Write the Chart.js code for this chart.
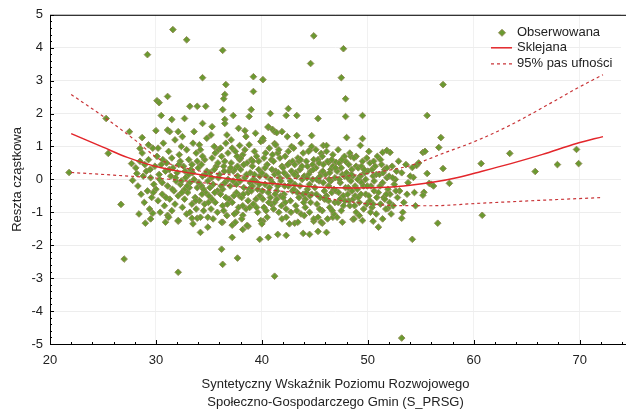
<!DOCTYPE html>
<html>
<head>
<meta charset="utf-8">
<script src="https://cdn.jsdelivr.net/npm/chart.js@4.4.0/dist/chart.umd.min.js"></script>
<style>
  body { margin: 0; background: #fff; }
  #wrap { width: 626px; height: 410px; }
</style>
</head>
<body>
<div id="wrap"><canvas id="myChart"></canvas></div>
<script>
// observed partial residuals [S_PRSG, residual]
var obsPoints = [
  // outliers / sparse points
  [21.8,0.21],[25.3,1.85],[25.5,0.79],[26.7,-0.76],[27,-2.42],[27.5,1.45],[28.7,1.27],[29,-1.33],
  [29.2,3.79],[30,1.48],[30.1,2.39],[30.3,2.33],[30.5,1.94],[31.1,2.52],[31.5,1.82],[31.6,4.55],
  [32.1,-2.82],[32.7,1.85],[32.9,4.24],[33.2,2.22],[33.9,2.22],[34.7,2.22],[34.4,3.09],[34.4,1.7],
  [35.3,1.6],[36.3,3.92],[36.6,2.88],[36.5,2.58],[36.4,2.45],[36.3,2.12],[36.5,1.82],[36.5,1.7],
  [37.3,1.94],[31.3,1.45],[32.1,1.45],[27.7,0.48],[28.2,0.18],[27.8,-0.03],[28.5,0.94],
  [34.2,-1.61],[37.2,-1.76],[36.2,-2.12],[36.3,-2.58],[37.7,-2.39],[37.2,-1.39],[32.1,-1.27],
  [29.7,-1.03],[31.1,-1.09],[33.4,-1.18],[33.9,-1.18],[34.9,-1.15],[36.3,-1.3],[41.2,-2.94],[53.2,-4.82],
  [44.9,4.36],[47.7,3.97],[44.6,3.52],[47.5,3.09],[39.2,3.12],[40.1,3.03],[39.2,2.67],[47.9,2.45],
  [39,2.12],[42.5,2.15],[38.8,1.91],[40.8,2.0],[42.3,1.94],[43.3,1.94],[45.3,1.85],[47.9,1.91],
  [49.5,1.94],[40.6,1.58],[41,1.52],[41.2,1.45],[41.4,1.42],[41.9,1.45],[38.4,1.48],[43.3,1.33],
  [44.7,1.33],[48,1.27],[49.5,1.24],[49.3,1.03],[45.8,1.03],[46.1,1.03],[51.4,0.82],[52.1,0.82],
  [51.8,0.88],[48.4,0.7],[48.9,0.7],[37.9,1.03],[40.1,1.18],[41.2,1.09],[44.5,0.88],[45.6,0.79],
  [46.3,0.52],[47,0.52],[54.2,0.36],
  [57.1,2.88],[55.6,1.94],[56.9,1.27],[56.7,0.97],[55.2,0.82],[55.4,0.85],[63.4,0.79],[54.6,0.42],
  [57.1,0.33],[60.7,0.48],[69.7,0.91],[69.9,0.48],[67.9,0.45],[65.8,0.24],[54.3,0.06],[55.6,0.18],
  [56,-0.15],[56.2,-0.2],[55.8,-0.12],[57.7,-0.12],[55.3,-0.39],[55.2,-0.48],[60.8,-1.09],[56.6,-1.33],
  [54.2,-1.82],[53.2,-1.18],[50.5,-1.27],[51,-1.45],[38.2,-1.52],[38.7,-1.42],[39.8,-1.82],[40.6,-1.76],
  [41.5,-1.67],[42.3,-1.7],[43.9,-1.64],[44.5,-1.67],[45.3,-1.58],[46.1,-1.61],[40.1,-1.27],[43.1,-1.33],
  [44.9,-1.27],[45.7,-1.33],[48.6,-1.21],[46.7,-1.15],[51.9,-0.88],[38.2,-1.09],[37.6,-1.0],
  // dense cloud
  [28.1,0.35],[28.3,-0.2],[28.5,0.55],[28.6,-0.45],[28.8,0.1],[28.9,-0.7],[28.4,-1.05],[28.7,0.8],
  [29.1,0.25],[29.2,-0.35],[29.3,0.6],[29.4,-0.9],[29.5,0.05],[29.6,-0.55],[29.7,0.95],[29.8,-0.15],[29.9,0.4],[29.5,-1.2],[29.3,1.05],
  [30.0,-0.3],[30.1,0.7],[30.2,-0.65],[30.3,0.15],[30.4,-1.0],[30.5,0.45],[30.6,-0.1],[30.7,1.1],[30.8,-0.8],[30.9,0.25],[30.2,0.95],[30.6,-0.45],[30.9,-1.3],
  [31.0,0.5],[31.1,-0.2],[31.2,0.85],[31.3,-0.6],[31.4,0.1],[31.5,-0.95],[31.6,0.35],[31.7,-0.35],[31.8,1.2],[31.9,-0.05],[31.2,-1.15],[31.5,0.65],[31.8,-0.75],[31.1,1.5],
  [32.0,0.2],[32.1,-0.5],[32.2,0.75],[32.3,-0.15],[32.4,1.0],[32.5,-0.85],[32.6,0.4],[32.7,-0.3],[32.8,0.05],[32.9,-1.05],[32.3,0.55],[32.5,1.3],[32.7,-0.6],[32.9,0.9],[32.1,-1.25],[32.4,-0.05],
  [33.0,-0.4],[33.1,0.6],[33.2,-0.1],[33.3,0.3],[33.4,-0.75],[33.5,1.1],[33.6,0.0],[33.7,-0.55],[33.8,0.8],[33.9,-0.25],[33.2,-1.0],[33.4,0.45],[33.6,1.45],[33.8,-0.9],[33.1,0.15],[33.9,0.55],[33.5,-1.35],
  [34.0,0.35],[34.1,-0.65],[34.2,0.9],[34.3,-0.2],[34.4,0.1],[34.5,-0.95],[34.6,0.6],[34.7,-0.4],[34.8,1.25],[34.9,-0.05],[34.2,-1.15],[34.4,0.7],[34.6,-0.75],[34.8,0.25],[34.1,1.05],[34.5,-0.3],[34.9,-1.45],[34.3,0.45],
  [35.0,-0.5],[35.1,0.2],[35.2,-0.9],[35.3,0.65],[35.4,-0.15],[35.5,1.0],[35.6,-0.7],[35.7,0.4],[35.8,-0.35],[35.9,0.05],[35.2,1.35],[35.4,-1.2],[35.6,0.8],[35.8,-1.0],[35.1,-0.25],[35.5,0.3],[35.9,0.9],[35.3,-0.6],
  [36.0,0.15],[36.1,-0.45],[36.2,0.7],[36.3,-0.8],[36.4,0.4],[36.5,-0.1],[36.6,1.1],[36.7,-1.1],[36.8,0.0],[36.9,-0.6],[36.1,0.95],[36.3,-0.3],[36.5,0.55],[36.7,1.35],[36.9,0.25],[36.2,-1.3],[36.6,-0.55],[36.8,0.8],[36.4,-0.95],
  [37.0,-0.2],[37.1,0.5],[37.2,-0.7],[37.3,0.25],[37.4,-1.05],[37.5,0.85],[37.6,-0.4],[37.7,0.1],[37.8,-0.85],[37.9,0.6],[37.1,1.2],[37.3,-0.05],[37.5,-1.3],[37.7,0.4],[37.9,-0.5],[37.2,0.95],[37.6,-0.15],[37.8,1.55],[37.4,0.3],
  [38.0,0.3],[38.1,-0.55],[38.2,0.75],[38.3,-0.25],[38.4,0.05],[38.5,-0.9],[38.6,0.5],[38.7,-0.65],[38.8,1.05],[38.9,-0.1],[38.1,-1.2],[38.3,0.45],[38.5,1.3],[38.7,-0.4],[38.9,0.2],[38.2,-0.8],[38.4,0.9],[38.6,-1.4],[38.8,-0.3],[38.0,0.65],
  [39.0,-0.35],[39.1,0.4],[39.2,-0.75],[39.3,0.15],[39.4,-0.05],[39.5,0.7],[39.6,-1.0],[39.7,0.3],[39.8,-0.5],[39.9,1.15],[39.1,-0.2],[39.3,0.85],[39.5,-0.85],[39.7,0.55],[39.9,-1.25],[39.2,0.0],[39.4,1.4],[39.6,-0.3],[39.8,0.1],[39.0,0.6],
  [40.0,0.2],[40.1,-0.6],[40.2,0.65],[40.3,-0.15],[40.4,-0.95],[40.5,0.45],[40.6,-0.4],[40.7,0.95],[40.8,0.0],[40.9,-0.75],[40.1,1.25],[40.3,0.35],[40.5,-1.15],[40.7,-0.25],[40.9,0.6],[40.2,-0.85],[40.4,0.1],[40.6,1.6],[40.8,-0.55],[40.0,-1.35],
  [41.0,-0.1],[41.1,0.55],[41.2,-0.7],[41.3,0.25],[41.4,-0.35],[41.5,0.8],[41.6,-1.0],[41.7,0.05],[41.8,-0.5],[41.9,0.4],[41.1,-0.9],[41.3,1.05],[41.5,-0.2],[41.7,0.65],[41.9,-1.2],[41.2,0.15],[41.4,-0.6],[41.6,0.9],[41.8,-0.05],[41.0,0.75],
  [42.0,0.35],[42.1,-0.45],[42.2,0.7],[42.3,-0.9],[42.4,0.1],[42.5,-0.2],[42.6,0.5],[42.7,-0.65],[42.8,1.0],[42.9,-0.35],[42.1,0.2],[42.3,-1.15],[42.5,0.85],[42.7,-0.05],[42.9,0.55],[42.2,-0.7],[42.4,1.3],[42.6,-1.35],[42.8,0.25],[42.0,-0.55],
  [43.0,-0.3],[43.1,0.45],[43.2,-0.8],[43.3,0.1],[43.4,0.65],[43.5,-0.55],[43.6,0.3],[43.7,-1.05],[43.8,0.0],[43.9,0.8],[43.1,-0.15],[43.3,-0.95],[43.5,0.55],[43.7,1.1],[43.9,-0.45],[43.2,0.2],[43.4,-1.3],[43.6,-0.2],[43.8,0.4],[43.0,0.95],
  [44.0,0.1],[44.1,-0.6],[44.2,0.55],[44.3,-0.3],[44.4,0.85],[44.5,-1.0],[44.6,0.25],[44.7,-0.45],[44.8,0.0],[44.9,0.6],[44.1,-0.85],[44.3,0.4],[44.5,-0.15],[44.7,1.0],[44.9,-1.2],[44.2,-0.4],[44.4,0.15],[44.6,-0.7],[44.8,0.45],[44.0,-1.1],
  [45.0,-0.25],[45.1,0.35],[45.2,-0.75],[45.3,0.6],[45.4,-0.05],[45.5,-0.55],[45.6,0.2],[45.7,-0.95],[45.8,0.45],[45.9,-0.35],[45.1,0.9],[45.3,-1.15],[45.5,0.1],[45.7,0.7],[45.9,-0.6],[45.2,0.0],[45.4,0.5],[45.6,-1.3],[45.8,-0.1],
  [46.0,0.15],[46.1,-0.5],[46.2,0.55],[46.3,-0.2],[46.4,-0.85],[46.5,0.3],[46.6,-0.4],[46.7,0.75],[46.8,-1.05],[46.9,0.05],[46.1,0.85],[46.3,-0.65],[46.5,-0.05],[46.7,0.4],[46.9,-0.7],[46.2,-1.2],[46.4,0.2],[46.6,0.6],[46.8,-0.3],
  [47.0,-0.35],[47.1,0.25],[47.2,-0.7],[47.3,0.5],[47.4,-0.1],[47.5,-0.95],[47.6,0.15],[47.7,-0.5],[47.8,0.7],[47.9,-0.25],[47.1,-1.15],[47.3,0.0],[47.5,0.35],[47.7,-0.8],[47.9,0.55],[47.2,0.9],[47.4,-0.6],[47.6,-1.3],[47.8,0.1],
  [48.0,0.2],[48.1,-0.45],[48.2,0.45],[48.3,-0.8],[48.4,-0.05],[48.5,0.3],[48.6,-0.6],[48.7,0.65],[48.8,-0.2],[48.9,-1.0],[48.1,0.05],[48.3,0.8],[48.5,-0.35],[48.7,-1.2],[48.9,0.4],[48.2,-0.65],[48.6,0.1],[48.8,-0.5],
  [49.0,-0.3],[49.1,0.35],[49.2,-0.7],[49.3,0.1],[49.4,-0.1],[49.5,0.55],[49.6,-0.9],[49.7,0.2],[49.8,-0.45],[49.9,0.65],[49.2,-1.1],[49.4,0.4],[49.6,-0.2],[49.8,0.0],[49.1,-0.55],[49.5,-1.25],[49.9,-0.75],
  [50.0,0.25],[50.1,-0.5],[50.2,0.5],[50.3,-0.2],[50.4,-0.85],[50.5,0.1],[50.6,-0.35],[50.7,0.4],[50.8,-1.05],[50.9,0.7],[50.2,-0.65],[50.4,0.3],[50.6,-0.05],[50.8,0.15],[50.1,0.85],[50.5,-0.75],
  [51.0,-0.4],[51.1,0.15],[51.2,-0.75],[51.3,0.45],[51.4,-0.1],[51.5,-0.55],[51.6,0.3],[51.7,-0.9],[51.8,0.05],[51.9,-0.3],[51.2,0.6],[51.4,-1.2],[51.6,-0.6],[51.8,0.35],
  [52.0,0.1],[52.1,-0.45],[52.3,0.4],[52.4,-0.8],[52.5,-0.15],[52.7,0.25],[52.8,-0.55],[52.9,0.55],[52.2,-1.05],[52.6,0.0],
  [53.0,-0.35],[53.2,0.2],[53.4,-0.7],[53.6,0.45],[53.8,-0.1],[53.3,-1.0],[53.7,-0.45],
  [54.0,0.1],[54.4,-0.4],[54.8,0.5],[54.5,-0.8],
  // core of the cloud, second pass
  [33.15,-0.25],[33.45,0.2],[33.75,-0.65],[34.05,-0.1],[34.35,-0.45],[34.65,0.15],[34.95,-0.7],[35.25,0.05],
  [35.55,-0.4],[35.85,0.5],[36.15,-0.2],[36.45,0.25],[36.75,-0.75],[37.05,0.35],[37.35,-0.5],[37.65,0.7],
  [37.95,-0.05],[38.25,-0.45],[38.55,0.15],[38.85,-0.85],[39.15,0.55],[39.45,-0.6],[39.75,-0.15],[40.05,-0.35],
  [40.35,0.8],[40.65,-0.7],[40.95,0.3],[41.25,-0.45],[41.55,0.2],[41.85,-0.8],[42.15,-0.2],[42.45,0.45],
  [42.75,-1.0],[43.05,0.15],[43.35,-0.4],[43.65,0.6],[43.95,-0.7],[44.25,0.05],[44.55,-0.5],[44.85,0.3],
  [45.15,-0.45],[45.45,-0.9],[45.75,0.25],[46.05,-0.6],[46.35,0.0],[46.65,-0.95],[46.95,0.35],[47.25,-0.4],
  [47.55,0.6],[47.85,-0.65],[48.15,-0.25],[48.45,0.15],[48.75,-0.8],[49.05,0.0],[49.35,-0.45],[49.65,0.3],
  [49.95,-0.2],[50.25,-1.0],[50.55,0.55],[50.85,-0.55],[51.15,-0.2],[51.45,0.2],[51.75,-0.45],[52.05,-0.7],
  [52.35,0.05],[52.65,-0.35],[30.35,0.0],[30.65,0.6],[30.95,-0.55],[31.25,0.3],[31.55,-0.3],[31.85,0.05],
  [32.15,0.45],[32.45,-0.4],[32.75,0.25],[32.95,-0.2],[29.45,0.3],[29.75,-0.4],[28.95,0.45]
];

// fitted spline and 95% band
var splineX = [22, 25, 27.3, 30.4, 33.5, 36.7, 39.8, 42.5, 45.5, 48.5, 51.8, 54, 56.1, 58.5, 60.7, 63.5, 66.5, 69.7, 72.2];
var splineY = [1.39, 0.98, 0.67, 0.36, 0.18, 0.03, -0.09, -0.17, -0.24, -0.26, -0.24, -0.18, -0.09, 0.06, 0.24, 0.48, 0.76, 1.09, 1.3];
var upperX = [22, 25.3, 28, 30.4, 33, 36, 40, 43.6, 46, 48.5, 51.8, 54, 57.1, 60.3, 63.4, 66.5, 69.7, 72.2];
var upperY = [2.58, 1.85, 1.2, 0.6, 0.33, 0.17, 0.07, 0.03, 0.04, 0.12, 0.27, 0.42, 0.79, 1.18, 1.64, 2.18, 2.76, 3.18];
var lowerX = [22, 26, 30.4, 33.5, 36.7, 40, 43.6, 47.4, 52.4, 56, 60.3, 66, 72.2];
var lowerY = [0.21, 0.13, 0.03, -0.07, -0.18, -0.3, -0.42, -0.64, -0.79, -0.8, -0.73, -0.64, -0.55];

var xTicks = [20, 30, 40, 50, 60, 70];
var xTitle = ['Syntetyczny Wskaźnik Poziomu Rozwojowego', 'Społeczno-Gospodarczego Gmin (S_PRSG)'];
var yTitle = 'Reszta cząstkowa';

function toXY(xs, ys) {
  return xs.map(function (x, i) { return { x: x, y: ys[i] }; });
}

var FONT = "'Liberation Sans', Arial, sans-serif";
var dotFill = '#6a9a30';
var dotEdge = '#8f8c55';
var red = '#e3262b';
var redDash = '#c93538';

// black frame round the plot, with inward tick marks
var framePlugin = {
  id: 'frame',
  afterDatasetsDraw: function (chart) {
    var a = chart.chartArea, c = chart.ctx;
    var xs = chart.scales.x, ys = chart.scales.y;
    c.save();
    c.strokeStyle = '#000';
    c.lineWidth = 1;
    c.strokeRect(a.left + 0.5, a.top + 0.5, chart.width - a.left + 2, a.bottom - a.top);
    c.beginPath();
    for (var v = -5; v <= 5.001; v += 0.2) {
      var py = Math.round(ys.getPixelForValue(v)) + 0.5;
      var major = Math.abs(v - Math.round(v)) < 0.01;
      c.moveTo(a.left, py);
      c.lineTo(a.left + (major ? 4 : 2), py);
    }
    for (var u = 20; u <= 74; u += 2) {
      var px = Math.round(xs.getPixelForValue(u)) + 0.5;
      var big = u % 10 === 0;
      c.moveTo(px, a.bottom);
      c.lineTo(px, a.bottom - (big ? 4 : 2));
    }
    c.stroke();
    c.restore();
  }
};

// legend in the top right corner of the plot
var legendPlugin = {
  id: 'cornerLegend',
  afterDraw: function (chart) {
    var a = chart.chartArea, c = chart.ctx;
    var mx = chart.width - 124;
    var tx = chart.width - 109;
    var rows = [a.top + 18, a.top + 33, a.top + 49];
    c.save();
    // marker
    c.fillStyle = dotFill;
    c.strokeStyle = dotEdge;
    c.lineWidth = 1;
    c.beginPath();
    c.moveTo(mx, rows[0] - 3.5); c.lineTo(mx + 3.5, rows[0]); c.lineTo(mx, rows[0] + 3.5); c.lineTo(mx - 3.5, rows[0]);
    c.closePath(); c.fill(); c.stroke();
    // solid line
    c.strokeStyle = red; c.lineWidth = 1.5;
    c.beginPath(); c.moveTo(mx - 11, rows[1]); c.lineTo(mx + 10, rows[1]); c.stroke();
    // dashed line
    c.strokeStyle = redDash; c.lineWidth = 1.2; c.setLineDash([3, 3]);
    c.beginPath(); c.moveTo(mx - 11, rows[2]); c.lineTo(mx + 10, rows[2]); c.stroke();
    c.setLineDash([]);
    c.fillStyle = '#222';
    c.font = '13px ' + FONT;
    c.textBaseline = 'middle';
    var labels = chart.data.datasets.slice(0, 3).map(function (d) { return d.label; });
    labels.forEach(function (t, i) { c.fillText(t, tx, rows[i]); });
    c.restore();
  }
};

var ctx = document.getElementById('myChart');

var myChart = new Chart(ctx, {
  type: 'scatter',
  data: {
    datasets: [{
      label: 'Obserwowana',
      data: obsPoints.map(function (p) { return { x: p[0], y: p[1] }; }),
      pointStyle: 'rectRot',
      pointRadius: 3.3,
      backgroundColor: dotFill,
      borderColor: dotEdge,
      borderWidth: 1,
      order: 3
    }, {
      type: 'line',
      label: 'Sklejana',
      data: toXY(splineX, splineY),
      borderColor: red,
      borderWidth: 1.5,
      pointRadius: 0,
      cubicInterpolationMode: 'monotone',
      fill: false,
      order: 1
    }, {
      type: 'line',
      label: '95% pas ufności',
      data: toXY(upperX, upperY),
      borderColor: redDash,
      borderWidth: 1.2,
      borderDash: [3, 3],
      pointRadius: 0,
      cubicInterpolationMode: 'monotone',
      fill: false,
      order: 2
    }, {
      type: 'line',
      label: '95% pas ufności (dolna)',
      data: toXY(lowerX, lowerY),
      borderColor: redDash,
      borderWidth: 1.2,
      borderDash: [3, 3],
      pointRadius: 0,
      cubicInterpolationMode: 'monotone',
      fill: false,
      order: 2
    }]
  },
  options: {
    responsive: true,
    maintainAspectRatio: false,
    animation: false,
    layout: { padding: { top: 14, right: 0, left: 0, bottom: 0 } },
    plugins: {
      legend: { display: false },
      tooltip: { enabled: false }
    },
    scales: {
      x: {
        type: 'linear',
        min: 20,
        max: 73.9,
        afterBuildTicks: function (scale) {
          scale.ticks = xTicks.map(function (v) { return { value: v }; });
        },
        afterFit: function (scale) { scale.height = 66; },
        ticks: { color: '#222', font: { family: FONT, size: 13 }, padding: 9, maxRotation: 0 },
        grid: { color: '#f1f1f1', drawTicks: false },
        border: { display: false },
        title: {
          display: true,
          text: xTitle,
          color: '#222',
          font: { family: FONT, size: 13, lineHeight: 1.4 },
          padding: { top: 4, bottom: -2 }
        }
      },
      y: {
        min: -5,
        max: 5,
        ticks: { stepSize: 1, color: '#222', font: { family: FONT, size: 13 }, padding: 7 },
        afterFit: function (scale) { scale.width = 50; },
        grid: { color: '#ededed', drawTicks: false },
        border: { display: false },
        title: {
          display: true,
          text: yTitle,
          color: '#222',
          font: { family: FONT, size: 13 },
          padding: { top: 10, bottom: 0 }
        }
      }
    }
  },
  plugins: [framePlugin, legendPlugin]
});
</script>
</body>
</html>
